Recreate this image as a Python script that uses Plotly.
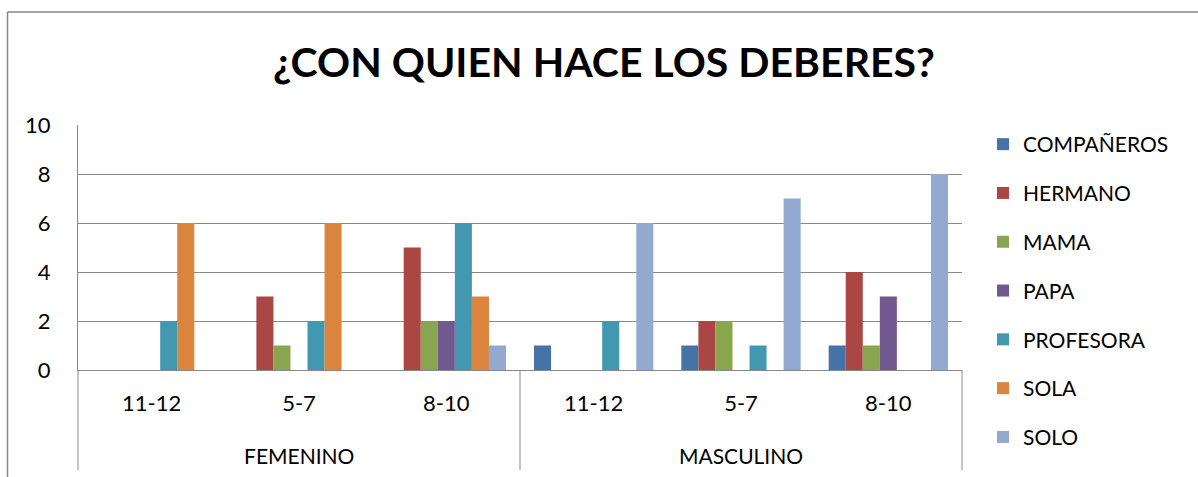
import plotly.graph_objects as go

genders = ["FEMENINO", "MASCULINO"]
ages = ["11-12", "5-7", "8-10"]
series_names = ["COMPAÑEROS", "HERMANO", "MAMA", "PAPA", "PROFESORA", "SOLA", "SOLO"]
# order: F 11-12, F 5-7, F 8-10, M 11-12, M 5-7, M 8-10
companeros = [None, None, None, 1, 1, 1]
hermano = [None, 3, 5, None, 2, 4]
mama = [None, 1, 2, None, 2, 1]
papa = [None, None, 2, None, None, 3]
profesora = [2, 2, 6, 2, 1, None]
sola = [6, 6, 3, None, None, None]
solo = [None, None, 1, 6, 7, 8]
colors = ["#4572A7", "#AA4643", "#89A54E", "#71588F", "#4198AF", "#DB843D", "#93A9CF"]

series_values = [companeros, hermano, mama, papa, profesora, sola, solo]
cat_ids = [f"{g} {a}" for g in genders for a in ages]
tick_text = [a for g in genders for a in ages]

FONT = "Lato"
GRID = "#898989"

fig = go.Figure()
for i, (name, vals) in enumerate(zip(series_names, series_values)):
    fig.add_trace(go.Bar(
        x=cat_ids, y=vals, name=name, marker_color=colors[i],
        marker_line_width=0, legendgroup=name,
    ))

W, H = 1198, 477
L, R, T, B = 78, 962, 125, 370
pw, ph = R - L, B - T


def px(x):
    return (x - L) / pw


def py(y):
    return (B - y) / ph


shapes = [
    # outer chart frame (top and left)
    dict(type="line", xref="paper", yref="paper", x0=px(7.5), x1=px(1198), y0=py(12), y1=py(12),
         line=dict(color="#868686", width=1.5)),
    dict(type="line", xref="paper", yref="paper", x0=px(7.5), x1=px(7.5), y0=py(12), y1=py(478),
         line=dict(color="#868686", width=1.5)),
]
for xd in [0, 0.5, 1]:
    shapes.append(dict(type="line", xref="paper", yref="paper", x0=xd, x1=xd, y0=0, y1=py(470),
                       line=dict(color=GRID, width=1)))

annotations = [
    dict(text=g, xref="paper", yref="paper", x=0.25 + 0.5 * k, y=py(455), showarrow=False,
         xanchor="center", yanchor="middle", font=dict(family=FONT, size=21, color="#000"))
    for k, g in enumerate(genders)
]

fig.update_layout(
    width=W, height=H,
    margin=dict(l=L, r=W - R, t=T, b=H - B, pad=0),
    paper_bgcolor="white", plot_bgcolor="white",
    barmode="group", bargap=0.19, bargroupgap=0,
    title=dict(text="<b>¿CON QUIEN HACE LOS DEBERES?</b>", x=604 / W, xanchor="center",
               y=1 - 63 / H, yanchor="middle", font=dict(family=FONT, size=41, color="#000")),
    font=dict(family=FONT, size=21, color="#000"),
    xaxis=dict(categoryorder="array", categoryarray=cat_ids, tickvals=cat_ids, ticktext=tick_text,
               showgrid=False, showline=True, linecolor=GRID, linewidth=1, ticks="",
               ticklabelstandoff=14, tickfont=dict(family=FONT, size=22, color="#000"),
               fixedrange=True),
    yaxis=dict(range=[0, 10], dtick=2, showgrid=True, gridcolor=GRID, gridwidth=1,
               showline=True, linecolor=GRID, linewidth=1, zeroline=False, ticks="",
               ticklabelstandoff=22, tickfont=dict(family=FONT, size=22, color="#000")),
    legend=dict(x=px(983), y=py(124), xanchor="left", yanchor="top",
                font=dict(family=FONT, size=21, color="#000"), tracegroupgap=18.5,
                itemwidth=30, bgcolor="rgba(0,0,0,0)", maxheight=470),
    shapes=shapes, annotations=annotations, showlegend=True,
)

fig.write_html("out.html", config={"displayModeBar": False},
               post_script="document.body.style.margin='0';")
